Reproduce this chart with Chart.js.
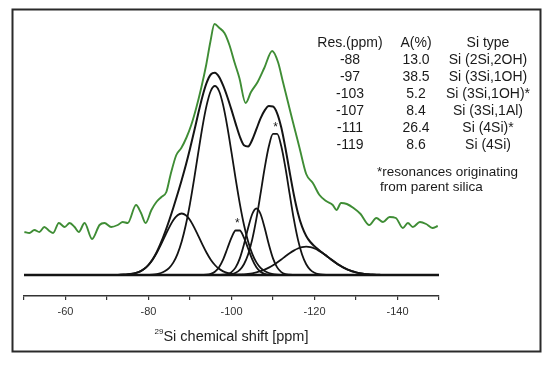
<!DOCTYPE html>
<html>
<head>
<meta charset="utf-8">
<script src="https://cdn.jsdelivr.net/npm/chart.js@4.4.0/dist/chart.umd.min.js"></script>
<style>
  html, body { margin: 0; padding: 0; background: #fff; }
  #wrap { width: 550px; height: 366px; }
</style>
</head>
<body>
<div id="wrap"><canvas id="nmr" width="550" height="366"></canvas></div>
<script>
// chemical shift grid (ppm) for the fitted curves
var shiftGrid = [-70, -71, -72, -73, -74, -75, -76, -77, -78, -79,
    -80, -81, -82, -83, -84, -85, -86, -87, -88, -89,
    -90, -91, -92, -93, -94, -95, -96, -97, -98, -99,
    -100, -101, -102, -103, -104, -105, -106, -107, -108, -109,
    -110, -111, -112, -113, -114, -115, -116, -117, -118, -119,
    -120, -121, -122, -123, -124, -125, -126, -127, -128, -129,
    -130, -131, -132, -133, -134, -135, -136, -137, -138, -139, -140];

// deconvoluted components (intensity, arbitrary units)
var peak88 = [0, 0, 0, 0.2, 0.4, 0.7, 1.2, 2.1, 3.6, 6.2,
    10.0, 15.3, 22.2, 30.3, 39.1, 47.6, 54.9, 59.8, 61.5, 59.8,
    54.9, 47.6, 39.1, 30.3, 22.2, 15.3, 10.0, 6.2, 3.6, 2.1,
    1.2, 0.7, 0.4, 0.2, 0, 0, 0, 0, 0, 0,
    0, 0, 0, 0, 0, 0, 0, 0, 0, 0,
    0, 0, 0, 0, 0, 0, 0, 0, 0, 0,
    0, 0, 0, 0, 0, 0, 0, 0, 0, 0, 0];
var peak97 = [0, 0, 0, 0, 0, 0, 0, 0, 0, 0.1,
    0.2, 0.4, 0.9, 2.0, 3.9, 7.2, 12.6, 21.2, 33.5, 50.2,
    71.4, 96.1, 122.6, 148.2, 169.6, 184.0, 189, 184.0, 169.6, 148.2,
    122.6, 96.1, 71.4, 50.2, 33.5, 21.2, 12.6, 7.2, 3.9, 2.0,
    0.9, 0.4, 0.2, 0.1, 0, 0, 0, 0, 0, 0,
    0, 0, 0, 0, 0, 0, 0, 0, 0, 0,
    0, 0, 0, 0, 0, 0, 0, 0, 0, 0, 0];
var peak103 = [0, 0, 0, 0, 0, 0, 0, 0, 0, 0,
    0, 0, 0, 0, 0, 0, 0, 0, 0, 0,
    0, 0, 0, 0.1, 0.3, 1.2, 3.3, 7.8, 15.7, 26.5,
    37.4, 44.5, 44.5, 37.4, 26.5, 15.7, 7.8, 3.3, 1.2, 0.3,
    0.1, 0, 0, 0, 0, 0, 0, 0, 0, 0,
    0, 0, 0, 0, 0, 0, 0, 0, 0, 0,
    0, 0, 0, 0, 0, 0, 0, 0, 0, 0, 0];
var peak107 = [0, 0, 0, 0, 0, 0, 0, 0, 0, 0,
    0, 0, 0, 0, 0, 0, 0, 0, 0, 0,
    0, 0, 0, 0, 0, 0, 0, 0.1, 0.3, 0.9,
    2.9, 7.6, 16.6, 30.5, 47.0, 61.0, 66.5, 61.0, 47.0, 30.5,
    16.6, 7.6, 2.9, 0.9, 0.3, 0.1, 0, 0, 0, 0,
    0, 0, 0, 0, 0, 0, 0, 0, 0, 0,
    0, 0, 0, 0, 0, 0, 0, 0, 0, 0, 0];
var peak111 = [0, 0, 0, 0, 0, 0, 0, 0, 0, 0,
    0, 0, 0, 0, 0, 0, 0, 0, 0, 0,
    0, 0, 0, 0, 0, 0, 0, 0, 0.1, 0.3,
    0.9, 2.3, 5.2, 10.8, 20.5, 35.6, 56.3, 81.3, 107.1, 128.7,
    141.1, 141.1, 128.7, 107.1, 81.3, 56.3, 35.6, 20.5, 10.8, 5.2,
    2.3, 0.9, 0.3, 0.1, 0, 0, 0, 0, 0, 0,
    0, 0, 0, 0, 0, 0, 0, 0, 0, 0, 0];
var peak119 = [0, 0, 0, 0, 0, 0, 0, 0, 0, 0,
    0, 0, 0, 0, 0, 0, 0, 0, 0, 0,
    0, 0, 0, 0, 0, 0, 0, 0, 0, 0,
    0.1, 0.2, 0.4, 0.7, 1.1, 1.7, 2.6, 3.8, 5.4, 7.4,
    9.8, 12.6, 15.6, 18.7, 21.7, 24.4, 26.5, 27.8, 28.3, 27.8,
    26.5, 24.4, 21.7, 18.7, 15.6, 12.6, 9.8, 7.4, 5.4, 3.8,
    2.6, 1.7, 1.1, 0.7, 0.4, 0.2, 0.1, 0, 0, 0, 0];
// fitted envelope
var fitSum = [0, 0, 0, 0.2, 0.4, 0.7, 1.2, 2.1, 3.6, 6.3,
    10.2, 15.7, 23.1, 32.3, 43.0, 54.8, 67.5, 81.0, 95.0, 110.0,
    126.3, 143.7, 161.7, 178.6, 192.1, 200.5, 202.3, 198.1, 189.3, 178.0,
    165.1, 151.4, 138.5, 129.8, 128.6, 135.2, 145.8, 156.6, 164.6, 168.9,
    168.5, 161.7, 147.4, 126.8, 103.3, 80.8, 62.1, 48.3, 39.1, 33.0,
    28.8, 25.3, 22.0, 18.8, 15.6, 12.6, 9.8, 7.4, 5.4, 3.8,
    2.6, 1.7, 1.1, 0.7, 0.4, 0.2, 0.1, 0, 0, 0, 0];

// measured spectrum (offset above the fit)
var measPpm = [-50.1, -51.3, -52.5, -53.7, -54.9, -56.1, -57.0, -58.4, -59.8, -61.0,
    -62.2, -63.2, -64.6, -66.4, -68.2, -69.4, -71.0, -72.6, -73.8, -75.0,
    -77.0, -78.2, -79.3, -80.7, -81.9, -83.1, -84.3, -85.3, -86.7, -87.9,
    -89.1, -90.3, -91.5, -92.7, -93.9, -94.9, -95.9, -97.1, -98.3, -99.5,
    -100.7, -101.9, -103.4, -104.7, -106.3, -107.9, -109.8, -111.2, -112.4, -113.6,
    -114.8, -116.4, -118.0, -119.6, -121.2, -122.8, -124.4, -125.3, -126.4, -127.8,
    -129.4, -131.1, -133.2, -134.9, -136.5, -138.1, -139.6, -141.3, -142.5, -143.7,
    -145.4, -146.9, -148.4, -149.7];
var measInt = [43, 42, 45, 43, 48, 44, 42, 52, 48, 52,
    48, 43, 52, 36, 50, 52, 48, 50, 53, 52,
    70, 62, 52, 65, 73, 78, 83, 100, 120, 127,
    137, 150, 167, 187, 210, 233, 251, 247, 242, 230,
    213, 197, 172, 183, 193, 207, 224, 213, 193, 173,
    153, 127, 101, 92, 80, 74, 70, 65, 72, 71,
    67, 61, 50, 57, 53, 58, 57, 47, 52, 48,
    53, 51, 47, 49];

// table of resonances
var resPpm = ['-88', '-97', '-103', '-107', '-111', '-119'];
var resArea = ['13.0', '38.5', '5.2', '8.4', '26.4', '8.6'];
var resType = ['Si (2Si,2OH)', 'Si (3Si,1OH)', 'Si (3Si,1OH)*', 'Si (3Si,1Al)', 'Si (4Si)*', 'Si (4Si)'];

// asterisks over the parent silica peaks [ppm, intensity]
var starPpm = [-101.4, -110.6];
var starInt = [54, 150];

var FONT = '"Liberation Sans", Arial, sans-serif';

function toPoints(xs, ys) {
    return xs.map(function (x, i) { return { x: x, y: ys[i] }; });
}

function curve(values, color, width) {
    return {
        data: toPoints(shiftGrid, values),
        borderColor: color,
        borderWidth: width,
        pointRadius: 0,
        cubicInterpolationMode: 'monotone',
        fill: false
    };
}

var extras = {
    id: 'extras',
    afterDraw: function (chart) {
        var ctx = chart.ctx;
        var xs = chart.scales.x, ys = chart.scales.y;
        ctx.save();

        // frame round the figure
        ctx.strokeStyle = '#2a2a2a';
        ctx.lineWidth = 2;
        ctx.strokeRect(12.5, 9.5, 528, 342);

        // table
        ctx.fillStyle = '#1a1a1a';
        ctx.font = '14px ' + FONT;
        ctx.textAlign = 'center';
        ctx.textBaseline = 'middle';
        ctx.fillText('Res.(ppm)', 350, 43);
        ctx.fillText('A(%)', 416, 43);
        ctx.fillText('Si type', 488, 43);
        for (var i = 0; i < resPpm.length; i++) {
            var y = 60 + i * 17;
            ctx.fillText(resPpm[i], 350, y);
            ctx.fillText(resArea[i], 416, y);
            ctx.fillText(resType[i], 488, y);
        }
        ctx.textAlign = 'left';
        ctx.font = '13.5px ' + FONT;
        ctx.fillText('*resonances originating', 377, 172);
        ctx.fillText('from parent silica', 380, 187);

        // asterisks
        ctx.textAlign = 'center';
        ctx.font = '12px ' + FONT;
        for (var j = 0; j < starPpm.length; j++) {
            ctx.fillText('*', xs.getPixelForValue(starPpm[j]), ys.getPixelForValue(starInt[j]) + 3);
        }

        // axis title with superscript
        var big = '14.5px ' + FONT, small = '8px ' + FONT;
        var main = 'Si chemical shift [ppm]';
        ctx.font = small;
        var w1 = ctx.measureText('29').width;
        ctx.font = big;
        var w2 = ctx.measureText(main).width;
        var cx = (chart.chartArea.left + chart.chartArea.right) / 2;
        var x0 = cx - (w1 + w2) / 2;
        ctx.textAlign = 'left';
        ctx.textBaseline = 'alphabetic';
        ctx.fillStyle = '#222';
        ctx.font = small;
        ctx.fillText('29', x0, 334);
        ctx.font = big;
        ctx.fillText(main, x0 + w1, 341);
        ctx.restore();
    }
};

var ctx = document.getElementById('nmr').getContext('2d');
var chart = new Chart(ctx, {
    type: 'line',
    data: {
        datasets: [
            {
                data: toPoints(measPpm, measInt),
                borderColor: '#3f8d35',
                borderWidth: 1.9,
                pointRadius: 0,
                cubicInterpolationMode: 'monotone',
                fill: false
            },
            curve(fitSum, '#141414', 2),
            curve(peak88, '#141414', 1.8),
            curve(peak97, '#141414', 1.8),
            curve(peak103, '#141414', 1.8),
            curve(peak107, '#141414', 1.8),
            curve(peak111, '#141414', 1.8),
            curve(peak119, '#141414', 1.8),
            {
                data: toPoints([-50, -150], [0, 0]),
                borderColor: '#141414',
                borderWidth: 2.4,
                pointRadius: 0,
                fill: false
            }
        ]
    },
    options: {
        responsive: false,
        animation: false,
        events: [],
        layout: { padding: { left: 24, right: 111, top: 10, bottom: 0 } },
        plugins: { legend: { display: false }, tooltip: { enabled: false } },
        scales: {
            x: {
                type: 'linear',
                min: -150,
                max: -50,
                reverse: true,
                afterFit: function (scale) { scale.height = 70; },
                border: { display: true, color: '#333', width: 1.5 },
                grid: { drawOnChartArea: false, tickLength: 4, color: '#333', lineWidth: 1.2 },
                ticks: {
                    stepSize: 10,
                    autoSkip: false,
                    maxRotation: 0,
                    padding: 5,
                    color: '#333',
                    font: { family: FONT, size: 11 },
                    callback: function (v) { return v % 20 === 0 ? String(v) : ''; }
                }
            },
            y: {
                display: false,
                min: -21,
                max: 265
            }
        }
    },
    plugins: [extras]
});
</script>
</body>
</html>
